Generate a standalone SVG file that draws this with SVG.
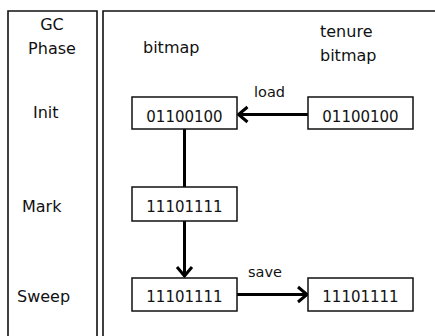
<svg xmlns="http://www.w3.org/2000/svg" width="435" height="336" viewBox="0 0 435 336">
<defs>
<style>
.panel{fill:none;stroke:#111;stroke-width:1.6}
.box{fill:#fff;stroke:#111;stroke-width:1.5}
.t{font-family:"DejaVu Sans",sans-serif;font-size:16px;fill:#111}
.d{font-family:"DejaVu Sans",sans-serif;font-size:15px;fill:#111;text-anchor:middle}
.l{font-family:"DejaVu Sans",sans-serif;font-size:14.5px;fill:#111}
.c{fill:none;stroke:#000;stroke-width:3}
</style>
<marker id="chev" markerUnits="userSpaceOnUse" markerWidth="14" markerHeight="20" viewBox="0 0 14 20" refX="11.5" refY="10" orient="auto">
<path d="M2,2.5 L11,10 L2,17.5" fill="none" stroke="#000" stroke-width="3"/>
</marker>
</defs>
<g id="phase-panel">
<path class="panel" d="M8,340 V11 H97 V340"/>
<text class="t" x="52" y="30" text-anchor="middle">GC</text>
<text class="t" x="52" y="54" text-anchor="middle">Phase</text>
<text class="t" x="33" y="118">Init</text>
<text class="t" x="22" y="212">Mark</text>
<text class="t" x="17" y="302">Sweep</text>
</g>
<g id="bitmap-panel">
<path class="panel" d="M103,340 V11 H440"/>
<text class="t" x="143" y="53">bitmap</text>
<text class="t" x="320" y="37">tenure</text>
<text class="t" x="320" y="61">bitmap</text>
</g>
<g id="connectors">
<line class="c" x1="184.5" y1="129" x2="184.5" y2="187"/>
<line class="c" x1="184.5" y1="221" x2="184.5" y2="276.5" marker-end="url(#chev)"/>
<line class="c" x1="308" y1="114.5" x2="238" y2="114.5" marker-end="url(#chev)"/>
<line class="c" x1="237" y1="294.5" x2="307.5" y2="294.5" marker-end="url(#chev)"/>
<text class="l" x="254" y="97">load</text>
<text class="l" x="248" y="277">save</text>
</g>
<g id="init-bitmap">
<rect class="box" x="132" y="97" width="105" height="32"/>
<text class="d" x="184.5" y="121.5">01100100</text>
</g>
<g id="init-tenure">
<rect class="box" x="308" y="97" width="105" height="32"/>
<text class="d" x="360.5" y="121.5">01100100</text>
</g>
<g id="mark-bitmap">
<rect class="box" x="132" y="187" width="105" height="34"/>
<text class="d" x="184.5" y="212">11101111</text>
</g>
<g id="sweep-bitmap">
<rect class="box" x="132" y="278" width="105" height="33"/>
<text class="d" x="184.5" y="302">11101111</text>
</g>
<g id="sweep-tenure">
<rect class="box" x="308" y="278" width="105" height="33"/>
<text class="d" x="360.5" y="302">11101111</text>
</g>
</svg>
